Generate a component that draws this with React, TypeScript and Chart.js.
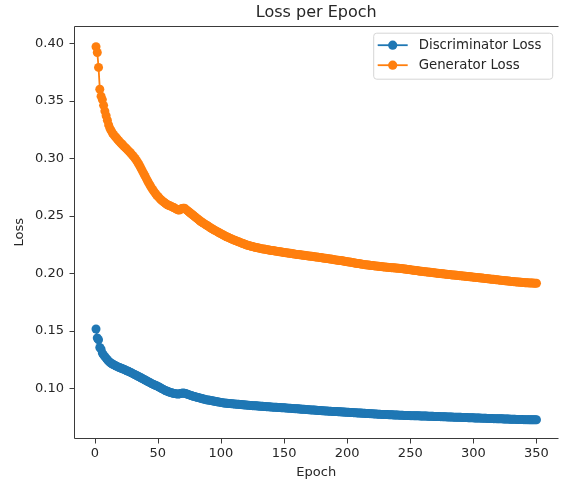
import React, { useEffect, useRef } from 'react';
import { Chart, registerables } from 'chart.js';

Chart.register(...registerables);

const chartTitle = 'Loss per Epoch';
const xAxisTitle = 'Epoch';
const yAxisTitle = 'Loss';
const seriesNames = ['Discriminator Loss', 'Generator Loss'];
const seriesColors = ['#1f77b4', '#ff7f0e'];
const xTickValues = [0, 50, 100, 150, 200, 250, 300, 350];
const yTickValues = [0.1, 0.15, 0.2, 0.25, 0.3, 0.35, 0.4];

// Discriminator loss, epochs 1..350 (rows of 10)
const discriminatorLoss = [
  0.1515, 0.1437, 0.1422, 0.1355, 0.1340, 0.1306, 0.1290, 0.1275, 0.1262, 0.1248,
  0.1236, 0.1226, 0.1218, 0.1211, 0.1205, 0.1199, 0.1193, 0.1188, 0.1183, 0.1178,
  0.1174, 0.1169, 0.1165, 0.1160, 0.1155, 0.1150, 0.1145, 0.1140, 0.1134, 0.1129,
  0.1123, 0.1118, 0.1112, 0.1106, 0.1100, 0.1095, 0.1089, 0.1083, 0.1077, 0.1071,
  0.1065, 0.1059, 0.1053, 0.1047, 0.1041, 0.1036, 0.1031, 0.1026, 0.1021, 0.1016,
  0.1010, 0.1004, 0.0998, 0.0992, 0.0986, 0.0981, 0.0976, 0.0971, 0.0967, 0.0963,
  0.0960, 0.0957, 0.0955, 0.0953, 0.0951, 0.0950, 0.0951, 0.0954, 0.0957, 0.0958,
  0.0957, 0.0954, 0.0950, 0.0946, 0.0942, 0.0938, 0.0934, 0.0931, 0.0928, 0.0925,
  0.0922, 0.0919, 0.0916, 0.0913, 0.0910, 0.0907, 0.0904, 0.0901, 0.0899, 0.0897,
  0.0895, 0.0893, 0.0891, 0.0889, 0.0887, 0.0885, 0.0883, 0.0881, 0.0879, 0.0877,
  0.0875, 0.0873, 0.0872, 0.0870, 0.0869, 0.0868, 0.0867, 0.0866, 0.0865, 0.0864,
  0.0863, 0.0862, 0.0861, 0.0860, 0.0859, 0.0858, 0.0857, 0.0856, 0.0855, 0.0854,
  0.0853, 0.0852, 0.0851, 0.0850, 0.0849, 0.0848, 0.0848, 0.0847, 0.0846, 0.0845,
  0.0844, 0.0843, 0.0843, 0.0842, 0.0841, 0.0840, 0.0839, 0.0839, 0.0838, 0.0837,
  0.0836, 0.0836, 0.0835, 0.0834, 0.0833, 0.0833, 0.0832, 0.0831, 0.0830, 0.0830,
  0.0829, 0.0828, 0.0827, 0.0827, 0.0826, 0.0825, 0.0824, 0.0823, 0.0823, 0.0822,
  0.0821, 0.0820, 0.0819, 0.0818, 0.0818, 0.0817, 0.0816, 0.0815, 0.0814, 0.0813,
  0.0812, 0.0812, 0.0811, 0.0810, 0.0809, 0.0808, 0.0807, 0.0806, 0.0806, 0.0805,
  0.0804, 0.0803, 0.0803, 0.0802, 0.0801, 0.0801, 0.0800, 0.0799, 0.0799, 0.0798,
  0.0797, 0.0797, 0.0796, 0.0795, 0.0795, 0.0794, 0.0793, 0.0793, 0.0792, 0.0791,
  0.0791, 0.0790, 0.0789, 0.0789, 0.0788, 0.0787, 0.0787, 0.0786, 0.0785, 0.0785,
  0.0784, 0.0783, 0.0783, 0.0782, 0.0781, 0.0781, 0.0780, 0.0779, 0.0779, 0.0778,
  0.0777, 0.0777, 0.0776, 0.0775, 0.0775, 0.0774, 0.0773, 0.0773, 0.0772, 0.0772,
  0.0771, 0.0771, 0.0770, 0.0770, 0.0769, 0.0769, 0.0768, 0.0768, 0.0767, 0.0767,
  0.0766, 0.0766, 0.0765, 0.0765, 0.0764, 0.0764, 0.0764, 0.0763, 0.0763, 0.0762,
  0.0762, 0.0762, 0.0761, 0.0761, 0.0761, 0.0760, 0.0760, 0.0759, 0.0759, 0.0759,
  0.0758, 0.0758, 0.0758, 0.0757, 0.0757, 0.0756, 0.0756, 0.0756, 0.0755, 0.0755,
  0.0754, 0.0754, 0.0754, 0.0753, 0.0753, 0.0752, 0.0752, 0.0752, 0.0751, 0.0751,
  0.0750, 0.0750, 0.0750, 0.0749, 0.0749, 0.0748, 0.0748, 0.0748, 0.0747, 0.0747,
  0.0746, 0.0746, 0.0746, 0.0745, 0.0745, 0.0744, 0.0744, 0.0744, 0.0743, 0.0743,
  0.0742, 0.0742, 0.0742, 0.0741, 0.0741, 0.0740, 0.0740, 0.0740, 0.0739, 0.0739,
  0.0738, 0.0738, 0.0738, 0.0737, 0.0737, 0.0736, 0.0736, 0.0736, 0.0735, 0.0735,
  0.0734, 0.0734, 0.0734, 0.0733, 0.0733, 0.0732, 0.0732, 0.0732, 0.0731, 0.0731,
  0.0730, 0.0730, 0.0730, 0.0729, 0.0729, 0.0729, 0.0728, 0.0728, 0.0728, 0.0727,
  0.0727, 0.0727, 0.0727, 0.0726, 0.0726, 0.0726, 0.0726, 0.0726, 0.0726, 0.0726,
];

// Generator loss, epochs 1..350 (rows of 10)
const generatorLoss = [
  0.397, 0.392, 0.379, 0.360, 0.354, 0.351, 0.346, 0.341, 0.337, 0.333,
  0.329, 0.326, 0.324, 0.322, 0.3205, 0.319, 0.3178, 0.3165, 0.3152, 0.3140,
  0.3128, 0.3117, 0.3106, 0.3095, 0.3084, 0.3073, 0.3062, 0.3050, 0.3038, 0.3025,
  0.3012, 0.2998, 0.2982, 0.2965, 0.2946, 0.2926, 0.2905, 0.2884, 0.2863, 0.2842,
  0.2821, 0.2800, 0.2780, 0.2761, 0.2743, 0.2726, 0.2710, 0.2695, 0.2681, 0.2668,
  0.2656, 0.2645, 0.2635, 0.2625, 0.2616, 0.2608, 0.2600, 0.2594, 0.2589, 0.2584,
  0.2579, 0.2574, 0.2569, 0.2562, 0.2556, 0.2551, 0.2550, 0.2556, 0.2563, 0.2566,
  0.2565, 0.2558, 0.2549, 0.2540, 0.2531, 0.2522, 0.2513, 0.2504, 0.2495, 0.2486,
  0.2477, 0.2468, 0.2459, 0.2450, 0.2443, 0.2436, 0.2429, 0.2422, 0.2415, 0.2408,
  0.2401, 0.2394, 0.2387, 0.2380, 0.2374, 0.2368, 0.2362, 0.2356, 0.2350, 0.2344,
  0.2338, 0.2332, 0.2326, 0.2320, 0.2315, 0.2310, 0.2305, 0.2300, 0.2295, 0.2290,
  0.2286, 0.2282, 0.2277, 0.2273, 0.2269, 0.2264, 0.2260, 0.2256, 0.2252, 0.2248,
  0.2244, 0.2241, 0.2238, 0.2235, 0.2232, 0.2229, 0.2226, 0.2223, 0.2221, 0.2219,
  0.2216, 0.2214, 0.2212, 0.2210, 0.2208, 0.2206, 0.2204, 0.2202, 0.2200, 0.2198,
  0.2197, 0.2195, 0.2193, 0.2191, 0.2190, 0.2188, 0.2186, 0.2184, 0.2183, 0.2181,
  0.2179, 0.2178, 0.2176, 0.2174, 0.2173, 0.2171, 0.2169, 0.2168, 0.2166, 0.2164,
  0.2163, 0.2162, 0.2160, 0.2159, 0.2157, 0.2156, 0.2154, 0.2153, 0.2151, 0.2150,
  0.2148, 0.2147, 0.2145, 0.2144, 0.2142, 0.2141, 0.2139, 0.2138, 0.2136, 0.2134,
  0.2133, 0.2131, 0.2130, 0.2128, 0.2127, 0.2125, 0.2123, 0.2121, 0.2119, 0.2117,
  0.2116, 0.2114, 0.2113, 0.2111, 0.2110, 0.2108, 0.2106, 0.2104, 0.2102, 0.2100,
  0.2099, 0.2097, 0.2095, 0.2093, 0.2091, 0.2089, 0.2087, 0.2085, 0.2084, 0.2082,
  0.2080, 0.2078, 0.2077, 0.2075, 0.2074, 0.2072, 0.2071, 0.2069, 0.2068, 0.2067,
  0.2066, 0.2064, 0.2063, 0.2062, 0.2060, 0.2059, 0.2058, 0.2057, 0.2055, 0.2054,
  0.2053, 0.2052, 0.2051, 0.2050, 0.2049, 0.2048, 0.2047, 0.2046, 0.2045, 0.2044,
  0.2043, 0.2042, 0.2041, 0.2039, 0.2038, 0.2036, 0.2035, 0.2033, 0.2032, 0.2030,
  0.2029, 0.2027, 0.2026, 0.2024, 0.2023, 0.2021, 0.2020, 0.2018, 0.2017, 0.2016,
  0.2014, 0.2013, 0.2012, 0.2010, 0.2009, 0.2008, 0.2006, 0.2005, 0.2004, 0.2002,
  0.2001, 0.2000, 0.1998, 0.1997, 0.1996, 0.1995, 0.1994, 0.1992, 0.1991, 0.1990,
  0.1989, 0.1988, 0.1986, 0.1985, 0.1984, 0.1983, 0.1982, 0.1980, 0.1979, 0.1978,
  0.1977, 0.1976, 0.1975, 0.1973, 0.1972, 0.1971, 0.1970, 0.1969, 0.1968, 0.1966,
  0.1965, 0.1964, 0.1963, 0.1962, 0.1960, 0.1959, 0.1958, 0.1957, 0.1955, 0.1954,
  0.1953, 0.1952, 0.1950, 0.1949, 0.1948, 0.1947, 0.1945, 0.1944, 0.1943, 0.1942,
  0.1940, 0.1939, 0.1938, 0.1937, 0.1935, 0.1934, 0.1933, 0.1932, 0.1930, 0.1929,
  0.1928, 0.1927, 0.1926, 0.1925, 0.1924, 0.1923, 0.1922, 0.1921, 0.1920, 0.1919,
  0.1918, 0.1917, 0.1917, 0.1916, 0.1916, 0.1915, 0.1915, 0.1914, 0.1914, 0.1913,
];

// Epoch numbers (categories) 1..N
const epochs = discriminatorLoss.map((_, i) => i + 1);

const FONT = "'DejaVu Sans', sans-serif";
const TEXT = '#262626';
const SPINE = '#3a3a3a';
const CLEAR = 'rgba(0,0,0,0)';

// matplotlib-like axes frame (left, bottom, top spines) and tick marks
const framePlugin = {
  id: 'mplFrame',
  afterDatasetsDraw(chart: any) {
    const { ctx, chartArea, scales } = chart;
    const L = Math.round(chartArea.left) + 0.5;
    const T = Math.round(chartArea.top) + 0.5;
    const B = Math.round(chartArea.bottom) + 0.5;
    const R = chartArea.right;
    ctx.save();
    ctx.strokeStyle = SPINE;
    ctx.lineWidth = 1;
    ctx.beginPath();
    ctx.moveTo(R, T);
    ctx.lineTo(L, T);
    ctx.lineTo(L, B);
    ctx.lineTo(R, B);
    ctx.stroke();
    ctx.beginPath();
    xTickValues.forEach((v) => {
      const px = Math.round(scales.x.getPixelForValue(v)) + 0.5;
      ctx.moveTo(px, B);
      ctx.lineTo(px, B + 5);
    });
    yTickValues.forEach((v) => {
      const py = Math.round(scales.y.getPixelForValue(v)) + 0.5;
      ctx.moveTo(L, py);
      ctx.lineTo(L - 5, py);
    });
    ctx.stroke();
    ctx.beginPath();
    ctx.restore();
  },
  afterDraw(chart: any) {
    const { ctx, chartArea } = chart;
    ctx.save();
    ctx.beginPath();
    ctx.fillStyle = TEXT;
    ctx.font = `16px ${FONT}`;
    ctx.textAlign = 'center';
    ctx.textBaseline = 'middle';
    ctx.fillText(chartTitle, (chartArea.left + chartArea.right) / 2, 12.5);
    ctx.restore();

    // legend box (matplotlib style, upper right)
    const w = 179;
    const h = 46;
    const x0 = chartArea.right - 6.3 - w;
    const y0 = chartArea.top + 6.7;
    ctx.save();
    ctx.beginPath();
    (ctx as any).roundRect(x0 + 0.5, y0 + 0.5, w, h, 3);
    ctx.fillStyle = 'rgba(255,255,255,0.8)';
    ctx.fill();
    ctx.strokeStyle = '#d6d6d6';
    ctx.lineWidth = 1;
    ctx.stroke();
    chart.data.datasets.forEach((ds: any, i: number) => {
      const cy = y0 + 12.5 + i * 20;
      ctx.strokeStyle = ds.borderColor;
      ctx.lineWidth = 1.8;
      ctx.beginPath();
      ctx.moveTo(x0 + 4.5, cy);
      ctx.lineTo(x0 + 34.5, cy);
      ctx.stroke();
      ctx.fillStyle = ds.borderColor;
      ctx.beginPath();
      ctx.arc(x0 + 19.5, cy, 4.6, 0, Math.PI * 2);
      ctx.fill();
      ctx.fillStyle = TEXT;
      ctx.font = `13.3px ${FONT}`;
      ctx.textBaseline = 'middle';
      ctx.textAlign = 'left';
      ctx.fillText(ds.label, x0 + 45.5, cy + 0.5);
    });
    ctx.beginPath();
    ctx.restore();
  },
};

export default function App() {
  const ref = useRef<HTMLCanvasElement | null>(null);

  useEffect(() => {
    if (!ref.current) return;
    const series = [discriminatorLoss, generatorLoss];
    const chart = new Chart(ref.current, {
      type: 'line',
      data: {
        datasets: series.map((vals, si) => ({
          label: seriesNames[si],
          data: vals.map((v, i) => ({ x: epochs[i], y: v })),
          borderColor: seriesColors[si],
          backgroundColor: seriesColors[si],
          pointBackgroundColor: seriesColors[si],
          pointBorderColor: seriesColors[si],
          borderWidth: 1.8,
          pointRadius: 4.5,
          pointBorderWidth: 0,
          pointHoverRadius: 4.5,
        })),
      },
      options: {
        animation: false,
        responsive: false,
        devicePixelRatio: 1,
        // the axes extend slightly past the visible right edge, as in the reference
        layout: { padding: { left: 0, right: -5, top: 26, bottom: 0 } },
        plugins: {
          legend: { display: false },
          tooltip: { enabled: false },
          title: { display: false },
        },
        scales: {
          x: {
            type: 'linear',
            min: -16.45,
            max: 367.45,
            afterBuildTicks: (s: any) => {
              s.ticks = xTickValues.map((v) => ({ value: v }));
            },
            afterFit: (s: any) => {
              s.height = 50.7;
              s.paddingLeft = 0;
              s.paddingRight = 0;
            },
            ticks: {
              autoSkip: false,
              maxRotation: 0,
              color: TEXT,
              padding: 3,
              font: { family: FONT, size: 13 },
            },
            grid: {
              display: true,
              drawOnChartArea: false,
              drawTicks: true,
              tickLength: 5,
              color: CLEAR,
              tickColor: CLEAR,
            },
            border: { display: true, color: CLEAR, width: 1 },
            title: {
              display: true,
              text: xAxisTitle,
              color: TEXT,
              font: { family: FONT, size: 13 },
              padding: { top: 0, bottom: 9 },
            },
          },
          y: {
            type: 'linear',
            min: 0.0565,
            max: 0.415,
            afterBuildTicks: (s: any) => {
              s.ticks = yTickValues.map((v) => ({ value: v }));
            },
            afterFit: (s: any) => {
              s.width = 74;
              s.paddingTop = 0;
              s.paddingBottom = 0;
            },
            ticks: {
              autoSkip: false,
              color: TEXT,
              padding: 5,
              font: { family: FONT, size: 13 },
              callback: (v: any) => Number(v).toFixed(2),
            },
            grid: {
              display: true,
              drawOnChartArea: false,
              drawTicks: true,
              tickLength: 5,
              color: CLEAR,
              tickColor: CLEAR,
            },
            border: { display: true, color: CLEAR, width: 1 },
            title: {
              display: true,
              text: yAxisTitle,
              color: TEXT,
              font: { family: FONT, size: 13 },
              padding: { top: 12, bottom: 0 },
            },
          },
        },
      },
      plugins: [framePlugin],
    });
    return () => chart.destroy();
  }, []);

  return (
    <div
      style={{
        position: 'absolute',
        left: 0,
        top: 0,
        width: 563,
        height: 489,
        overflow: 'hidden',
        background: '#fff',
      }}
    >
      <canvas ref={ref} width={563} height={489} style={{ width: 563, height: 489, display: 'block' }} />
    </div>
  );
}
